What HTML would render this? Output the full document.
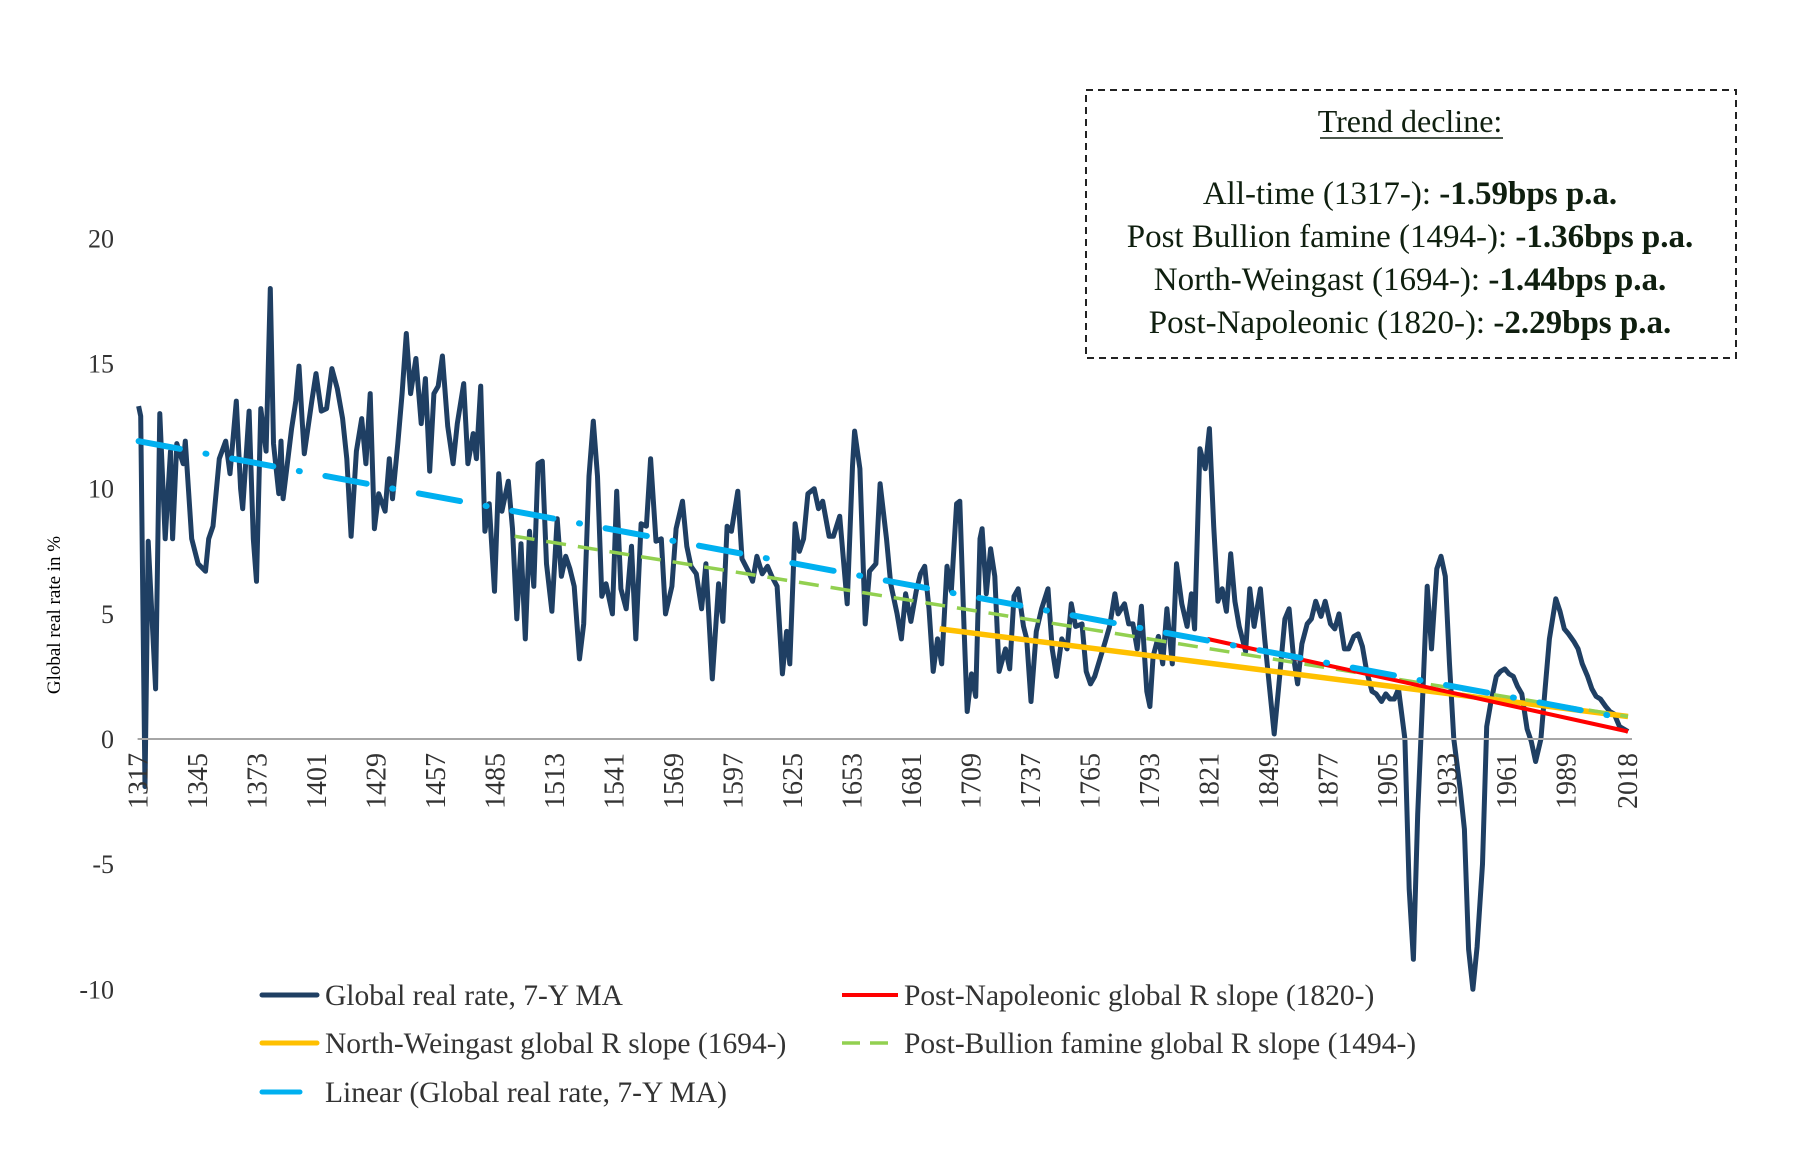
<!DOCTYPE html>
<html><head><meta charset="utf-8">
<style>
html,body{margin:0;padding:0;background:#fff;}
body{width:1810px;height:1148px;overflow:hidden;font-family:"Liberation Serif",serif;}
svg text{font-family:"Liberation Serif",serif;}
</style></head>
<body>
<svg id="chart" width="1810" height="1148" viewBox="0 0 1810 1148" xmlns="http://www.w3.org/2000/svg">
  <g id="grid"></g>
  <g id="series"></g>
  <g id="axes"></g>
  <text transform="translate(60,615) rotate(-90)" text-anchor="middle" font-size="19" fill="#000">Global real rate in %</text>

  <g>
    <rect x="1086" y="90" width="650" height="268" fill="#fff" stroke="#222" stroke-width="2" stroke-dasharray="7 5"/>
    <text x="1410" y="132" text-anchor="middle" font-size="32" fill="#0f1f0f">Trend decline:</text>
    <line x1="1320" y1="138" x2="1503" y2="138" stroke="#0f1f0f" stroke-width="1.5"/>
    <text x="1410" y="204" text-anchor="middle" font-size="33" fill="#0f1f0f">All-time (1317-): <tspan font-weight="bold">-1.59bps p.a.</tspan></text>
    <text x="1410" y="247" text-anchor="middle" font-size="33" fill="#0f1f0f">Post Bullion famine (1494-): <tspan font-weight="bold">-1.36bps p.a.</tspan></text>
    <text x="1410" y="290" text-anchor="middle" font-size="33" fill="#0f1f0f">North-Weingast (1694-): <tspan font-weight="bold">-1.44bps p.a.</tspan></text>
    <text x="1410" y="333" text-anchor="middle" font-size="33" fill="#0f1f0f">Post-Napoleonic (1820-): <tspan font-weight="bold">-2.29bps p.a.</tspan></text>
  </g>

  <g font-size="29.5" fill="#333">
    <g>
      <line x1="262" y1="995" x2="317" y2="995" stroke="#1f3f63" stroke-width="5" stroke-linecap="round"/>
      <text x="325" y="1005" fill="#333">Global real rate, 7-Y MA</text>
    </g>
    <g>
      <line x1="262" y1="1043" x2="317" y2="1043" stroke="#ffc000" stroke-width="5" stroke-linecap="round"/>
      <text x="325" y="1053" fill="#333">North-Weingast global R slope (1694-)</text>
    </g>
    <g>
      <line x1="262" y1="1092" x2="300" y2="1092" stroke="#00b0f0" stroke-width="5" stroke-linecap="round"/>
      <text x="325" y="1102" fill="#333">Linear (Global real rate, 7-Y MA)</text>
    </g>
    <g>
      <line x1="842" y1="995" x2="898" y2="995" stroke="#ff0000" stroke-width="4"/>
      <text x="904" y="1005" fill="#333">Post-Napoleonic global R slope (1820-)</text>
    </g>
    <g>
      <line x1="842" y1="1043" x2="898" y2="1043" stroke="#92d050" stroke-width="3.5" stroke-dasharray="18 10"/>
      <text x="904" y="1053" fill="#333">Post-Bullion famine global R slope (1494-)</text>
    </g>
  </g>
</svg>
<script>
// ---- data ----
const years = [1317,1318,1320,1321.5,1325,1327,1329.5,1332,1333,1335,1338,1339,1342,1345,1348.5,1350,1352,1355,1358,1360,1363,1365,1366,1369,1371,1372.5,1374.5,1377,1379,1380.5,1383,1384,1385,1389,1391,1392.5,1394,1395,1398.5,1400.5,1403,1405.5,1408,1410.5,1413,1415,1417,1419.5,1422,1424,1426,1428,1430,1433,1435,1436.5,1439,1441,1443,1445,1447.5,1450,1452,1454,1456,1458,1460,1462.5,1465,1467,1470,1472,1474.5,1476,1478,1480,1482,1484.5,1486.5,1488,1491,1493,1495,1497,1499,1501,1503,1505,1507,1509,1511.5,1514,1516,1518,1520,1522,1524.5,1526.5,1529,1531,1533,1535,1537,1540,1542,1544,1546.5,1549,1551,1553.5,1556,1558,1560.5,1563,1565,1568,1570,1573,1575,1577,1579.5,1582,1584,1587,1590,1592,1594,1596,1599,1601,1604,1606,1608,1610.5,1613,1615,1617.5,1620,1622,1623.5,1626,1628,1630,1632,1635,1637,1639,1642,1644,1647,1650.5,1653,1654,1656.5,1659,1661,1664,1666,1669,1671,1674,1676,1678,1680.5,1683,1685,1687,1689,1691,1693,1695,1697.5,1699.5,1702,1703.5,1705.5,1707,1709,1711,1713,1714,1716,1718,1720,1722,1725,1727,1729,1731,1733.5,1735,1737,1739.5,1742,1745,1747,1749,1751.5,1754,1756,1758,1761,1763,1765,1767,1769.5,1772,1774,1776.5,1778,1781,1783,1785,1787,1789,1791.5,1793,1794.5,1797,1799,1801,1803.5,1805.5,1808,1810.5,1812.5,1814,1816.5,1819,1821,1823,1825,1827,1829,1831,1833,1835,1838,1840,1842,1845,1847,1849,1851.5,1853.5,1856.5,1858.5,1860.5,1862.5,1864.5,1867,1869,1871,1873.5,1875.5,1878,1880,1882,1884.5,1886.5,1889,1891,1893,1895,1897.5,1899.5,1902,1904,1906,1908,1910,1913,1915,1917,1919,1921.5,1923.5,1925.5,1928,1930,1932,1934,1936,1939,1941,1943,1945,1947,1949.5,1951.5,1953.5,1956,1958,1960,1962,1964,1966,1968,1970.5,1972.5,1974.5,1977,1979,1981,1984,1986,1988,1990,1992.5,1994.5,1996.5,1999,2001,2003,2005,2007.5,2009.5,2011.5,2014,2018];
const rates = [13.3,12.9,-1.9,7.9,2,13,8,11.5,8,11.8,11,11.9,8,7,6.7,8,8.5,11.2,11.9,10.6,13.5,10,9.2,13.1,8,6.3,13.2,11.5,18,11.8,9.8,11.9,9.6,12.4,13.5,14.9,12.7,11.4,13.5,14.6,13.1,13.2,14.8,14,12.8,11.2,8.1,11.5,12.8,11,13.8,8.4,9.8,9.1,11.2,9.6,11.8,13.8,16.2,13.8,15.2,12.6,14.4,10.7,13.8,14.1,15.3,12.5,11,12.6,14.2,11,12.2,11.2,14.1,8.3,9.4,5.9,10.6,9.1,10.3,8.4,4.8,7.8,4,8.3,6.1,11,11.1,7,5.1,8.8,6.5,7.3,6.8,6.1,3.2,4.6,10.5,12.7,10.5,5.7,6.2,5,9.9,6,5.2,7.7,4,8.6,8.5,11.2,7.9,8,5,6.1,8.4,9.5,7.7,6.9,6.6,5.2,7,2.4,6.2,4.7,8.5,8.3,9.9,7.2,6.7,6.3,7.3,6.6,6.9,6.5,6.1,2.6,4.3,3,8.6,7.5,8,9.8,10,9.2,9.5,8.1,8.1,8.9,5.4,10.9,12.3,10.8,4.6,6.7,7,10.2,8,6.2,5,4,5.8,4.7,5.9,6.6,6.9,5.2,2.7,4,3,6.9,5.9,9.4,9.5,4.5,1.1,2.6,1.7,8,8.4,5.8,7.6,6.5,2.7,3.6,2.8,5.7,6,4.5,4,1.5,4.3,5.2,6,3.6,2.5,4,3.6,5.4,4.5,4.6,2.7,2.2,2.5,3.2,3.9,4.5,5.8,5,5.4,4.6,4.6,3.6,5.3,1.9,1.3,3.3,4.1,3,5.2,3,7,5.4,4.5,5.8,4.4,11.6,10.8,12.4,8.5,5.5,6,5.1,7.4,5.5,4.5,3.5,6,4.5,6,4,2.3,0.2,2,4.8,5.2,3.3,2.2,3.8,4.6,4.8,5.5,4.9,5.5,4.6,4.4,5,3.6,3.6,4.1,4.2,3.7,2.7,1.9,1.8,1.5,1.8,1.6,1.6,2,0,-6,-8.8,-3,2,6.1,3.6,6.8,7.3,6.5,3,0,-2,-3.6,-8.4,-10,-8.3,-5,0.5,1.5,2.5,2.7,2.8,2.6,2.5,2.1,1.8,0.4,-0.1,-0.9,0,2,4,5.6,5.1,4.4,4.2,3.9,3.6,3,2.5,2,1.7,1.6,1.3,1.1,1.0,0.5,0.3];
const trendNames = ["linear","post-bullion","north-weingast","post-napoleonic"];
const trendStartYears = [1317,1494,1694,1820];
const trendEndYears = [2018,2018,2018,2018];
const trendStartValues = [11.9,8.1,4.4,4.0];
const trendEndValues = [0.8,0.9,0.9,0.3];
const yTicks = [20,15,10,5,0,-5,-10];
const xTickYears = [1317,1345,1373,1401,1429,1457,1485,1513,1541,1569,1597,1625,1653,1681,1709,1737,1765,1793,1821,1849,1877,1905,1933,1961,1989,2018];

// ---- scales ----
const X0=138.6, X1=1628, Y0=1317, Y1=2018;
const yZero=739, pxPerUnit=25.03;
function xs(yr){return X0+(yr-Y0)*(X1-X0)/(Y1-Y0);}
function ys(v){return yZero-v*pxPerUnit;}
const NS="http://www.w3.org/2000/svg";
function mk(tag,attrs,parent){const e=document.createElementNS(NS,tag);for(const k in attrs)e.setAttribute(k,attrs[k]);parent.appendChild(e);return e;}

const axes=document.getElementById('axes');
const series=document.getElementById('series');

const ax=mk('line',{x1:X0-1,y1:ys(0),x2:X1+4,y2:ys(0),stroke:'#a6a6a6','stroke-width':2},axes);



yTicks.forEach(v=>{
  const t=mk('text',{x:114,y:ys(v)+9,'text-anchor':'end','font-size':26,fill:'#333'},axes);
  t.textContent=String(v);
  
  
});
xTickYears.forEach(yr=>{
  const x=xs(yr)+9;
  const t=mk('text',{transform:`translate(${x},${ys(0)+14}) rotate(-90)`,'text-anchor':'end','font-size':28,fill:'#333'},axes);
  t.textContent=String(yr);
  
  
});

const pts=years.map((yr,i)=>xs(yr).toFixed(1)+','+ys(rates[i]).toFixed(1)).join(' ');
const main=mk('polyline',{points:pts,fill:'none',stroke:'#1f3f63','stroke-width':5,'stroke-linejoin':'round'},series);



const styles={
  'north-weingast':{stroke:'#ffc000','stroke-width':5.5},
  'post-napoleonic':{stroke:'#ff0000','stroke-width':4},
  'post-bullion':{stroke:'#92d050','stroke-width':3.5,'stroke-dasharray':'20 12'},
  'linear':{stroke:'#00b0f0','stroke-width':6,'stroke-dasharray':'42 26 1 26','stroke-linecap':'round'}
};
const order=['north-weingast','post-bullion','post-napoleonic','linear'];
order.forEach(name=>{
  const i=trendNames.indexOf(name);
  const a=Object.assign({x1:xs(trendStartYears[i]),y1:ys(trendStartValues[i]),x2:xs(trendEndYears[i]),y2:ys(trendEndValues[i])},styles[name]);
  const l=mk('line',a,series);
  
  
});
</script>
</body></html>
